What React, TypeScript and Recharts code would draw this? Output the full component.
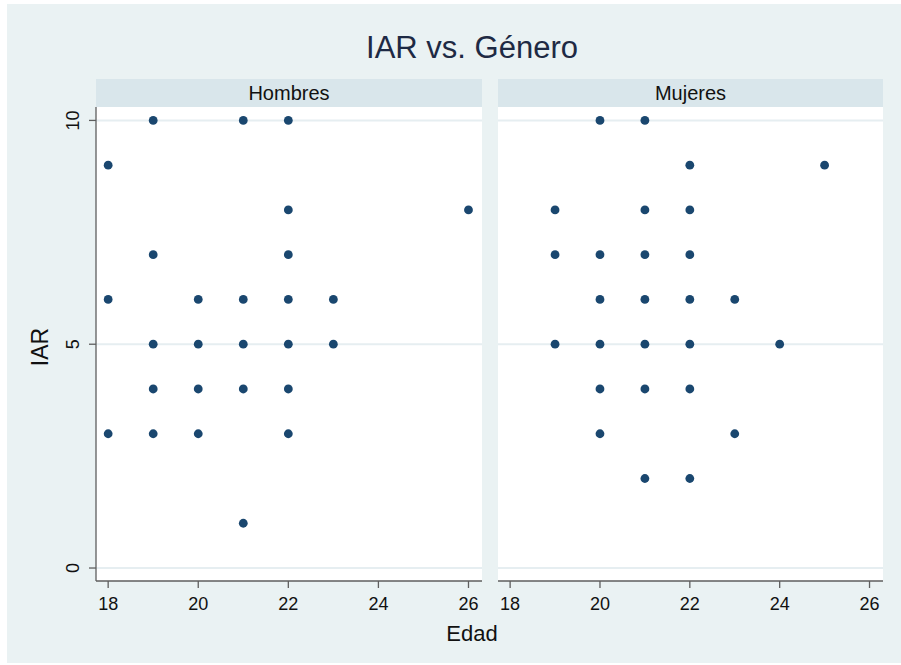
import React from 'react';
import { ScatterChart, Scatter, XAxis, YAxis, CartesianGrid } from 'recharts';

const chartTitle = 'IAR vs. Género';
const panelNames = ['Hombres', 'Mujeres'];
const xLabel = 'Edad';
const yLabel = 'IAR';

const hombresEdad = [18, 18, 18, 19, 19, 19, 19, 19, 20, 20, 20, 20, 21, 21, 21, 21, 21, 22, 22, 22, 22, 22, 22, 22, 23, 23, 26];
const hombresIAR = [9, 6, 3, 10, 7, 5, 4, 3, 6, 5, 4, 3, 10, 6, 5, 4, 1, 10, 8, 7, 6, 5, 4, 3, 6, 5, 8];
const mujeresEdad = [19, 19, 19, 20, 20, 20, 20, 20, 20, 21, 21, 21, 21, 21, 21, 21, 22, 22, 22, 22, 22, 22, 22, 23, 23, 24, 25];
const mujeresIAR = [8, 7, 5, 10, 7, 6, 5, 4, 3, 10, 8, 7, 6, 5, 4, 2, 9, 8, 7, 6, 5, 4, 2, 6, 3, 5, 9];

const xTicks = [18, 20, 22, 24, 26];
const yTicks = [0, 5, 10];
const xDomain = [17.73, 26.3];
const yDomain = [-0.29, 10.3];

const FONT = "'Liberation Sans', Arial, Helvetica, sans-serif";
const BG = '#eaf2f3';
const HEADER = '#d9e6eb';
const GRID = '#e6eef1';
const AXIS = '#5e5e5e';
const DOT = '#1a476f';

const hombresData = hombresEdad.map((x, i) => ({ x, y: hombresIAR[i] }));
const mujeresData = mujeresEdad.map((x, i) => ({ x, y: mujeresIAR[i] }));

const Dot = (props: any) => {
  const { cx, cy } = props;
  if (cx == null || cy == null) return null;
  return <circle cx={cx} cy={cy} r={4.4} fill={DOT} />;
};

const YTick = (props: any) => {
  const { x, y, payload } = props;
  return (
    <text
      x={x}
      y={y}
      transform={`rotate(-90 ${x} ${y})`}
      textAnchor="middle"
      fontSize={18}
      fontFamily={FONT}
      fill="#111"
    >
      {payload.value}
    </text>
  );
};

const CH = 665;
const TOP = 107;
const XH = 40;
const BOTTOM = 44;

function Panel(props: { data: any[]; left: number; width: number; margin: any; showY: boolean }) {
  const { data, left, width, margin, showY } = props;
  return (
    <div style={{ position: 'absolute', left, top: 0 }}>
      <ScatterChart width={width} height={CH} margin={margin}>
        <CartesianGrid
          vertical={false}
          horizontalValues={yTicks}
          stroke={GRID}
          strokeWidth={2}
          fill="#ffffff"
          fillOpacity={1}
        />
        <XAxis
          type="number"
          dataKey="x"
          domain={xDomain}
          ticks={xTicks}
          allowDataOverflow
          height={XH}
          tickSize={7}
          tickMargin={9}
          axisLine={{ stroke: AXIS, strokeWidth: 1.3 }}
          tickLine={{ stroke: AXIS, strokeWidth: 1.3 }}
          tick={{ fontSize: 18, fill: '#111', fontFamily: FONT }}
        />
        {showY ? (
          <YAxis
            type="number"
            dataKey="y"
            domain={yDomain}
            ticks={yTicks}
            allowDataOverflow
            width={96}
            tickSize={7}
            tickMargin={10}
            axisLine={{ stroke: AXIS, strokeWidth: 1.3 }}
            tickLine={{ stroke: AXIS, strokeWidth: 1.3 }}
            tick={<YTick />}
          />
        ) : (
          <YAxis type="number" dataKey="y" domain={yDomain} ticks={yTicks} allowDataOverflow hide />
        )}
        <Scatter data={data} shape={<Dot />} isAnimationActive={false} />
      </ScatterChart>
    </div>
  );
}

export default function App() {
  return (
    <div
      style={{
        position: 'absolute',
        left: 0,
        top: 0,
        width: 901,
        height: 665,
        background: '#ffffff',
        overflow: 'hidden',
        fontFamily: FONT,
      }}
    >
      <div style={{ position: 'absolute', left: 7, top: 4, width: 894, height: 659, background: BG }} />
      <svg width={901} height={665} style={{ position: 'absolute', left: 0, top: 0 }}>
        <text x={472} y={58} textAnchor="middle" fontSize={31} fontFamily={FONT} fill="#1e2a44">
          {chartTitle}
        </text>
        <rect x={96} y={79} width={386} height={28} fill={HEADER} />
        <rect x={498} y={79} width={385} height={28} fill={HEADER} />
        <text x={289} y={100} textAnchor="middle" fontSize={20} fontFamily={FONT} fill="#111">
          {panelNames[0]}
        </text>
        <text x={690.5} y={100} textAnchor="middle" fontSize={20} fontFamily={FONT} fill="#111">
          {panelNames[1]}
        </text>
        <text x={472} y={641} textAnchor="middle" fontSize={22} fontFamily={FONT} fill="#111">
          {xLabel}
        </text>
        <text
          x={48}
          y={347}
          transform="rotate(-90 48 347)"
          textAnchor="middle"
          fontSize={23}
          fontFamily={FONT}
          fill="#111"
        >
          {yLabel}
        </text>
      </svg>
      <Panel data={hombresData} left={0} width={490} margin={{ top: TOP, right: 8, bottom: BOTTOM, left: 0 }} showY />
      <Panel data={mujeresData} left={490} width={411} margin={{ top: TOP, right: 18, bottom: BOTTOM, left: 8 }} showY={false} />
    </div>
  );
}
